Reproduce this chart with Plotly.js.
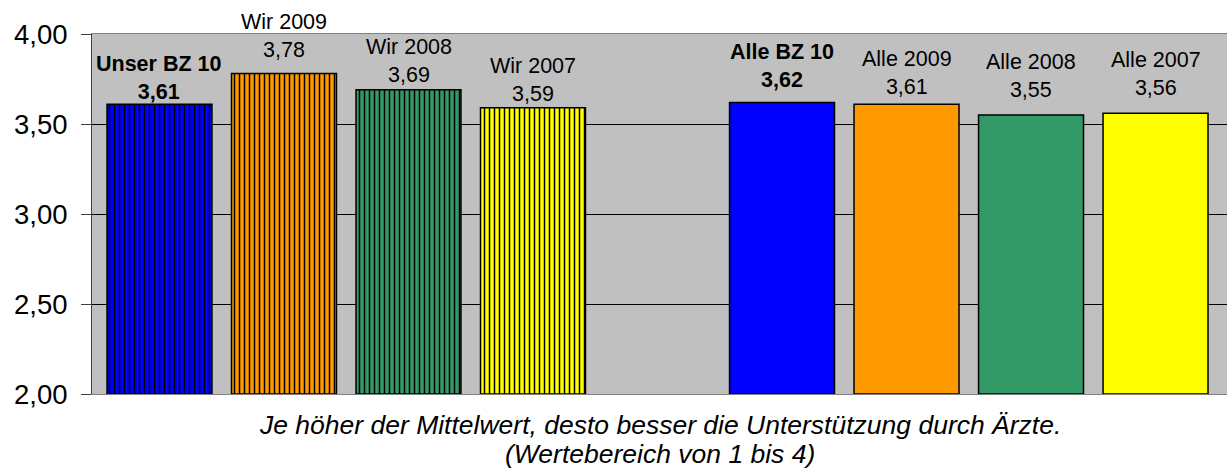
<!DOCTYPE html>
<html>
<head>
<meta charset="utf-8">
<script src="https://cdn.plot.ly/plotly-3.0.1.min.js"></script>
<style>html,body{margin:0;padding:0;background:#fff;}#chart{width:1227px;height:470px;}</style>
</head>
<body>
<div id="chart"></div>
<script>
const categories = ["Unser BZ 10", "Wir 2009", "Wir 2008", "Wir 2007", " ", "Alle BZ 10", "Alle 2009", "Alle 2008", "Alle 2007"];
const values = [3.61, 3.78, 3.69, 3.59, null, 3.62, 3.61, 3.55, 3.56];
const colors = ["#0000FF", "#FF9900", "#339966", "#FFFF00", "#FFFFFF", "#0000FF", "#FF9900", "#339966", "#FFFF00"];
const striped = [true, true, true, true, false, false, false, false, false];
const bold = [true, false, false, false, false, true, false, false, false];
const yTicks = [2.0, 2.5, 3.0, 3.5, 4.0];
const subtitleLines = ["Je höher der Mittelwert, desto besser die Unterstützung durch Ärzte.", "(Wertebereich von 1 bis 4)"];

// label placement (style): vertical offset in px above each bar top
const labelShift = [-2, 10, 1, 0, 0, 8, 3, 11, 11];

const FONT = "Liberation Sans, Arial, sans-serif";
const fmt = v => v.toFixed(2).replace('.', ',');

const traces = [];
categories.forEach((c, i) => {
  if (values[i] === null) return;
  const t = {
    type: "bar",
    x: [c],
    y: [values[i] - 2],
    base: 2,
    hoverinfo: "none",
    marker: {
      color: colors[i],
      line: {color: "#000", width: 1.5}
    }
  };
  if (striped[i]) {
    t.marker.pattern = {shape: "|", fgcolor: "#000000", bgcolor: colors[i], fillmode: "replace", size: 5, solidity: 0.3};
  }
  traces.push(t);
});

const annotations = [];
categories.forEach((c, i) => {
  if (values[i] === null) return;
  let t = c + "<br>" + fmt(values[i]);
  if (bold[i]) t = "<b>" + t + "</b>";
  annotations.push({
    x: c, y: values[i], xref: "x", yref: "y",
    text: t, showarrow: false, yanchor: "bottom", xanchor: "center",
    yshift: labelShift[i],
    font: {family: FONT, size: 21.5, color: "#000"}
  });
});
subtitleLines.forEach((s, i) => {
  annotations.push({
    x: 0.5, xref: "paper", y: i === 0 ? -0.085 : -0.168, yref: "paper",
    text: "<i>" + s + "</i>", showarrow: false, yanchor: "middle", xanchor: "center",
    font: {family: FONT, size: 26.5, color: "#000"}
  });
});

const layout = {
  width: 1227,
  height: 470,
  margin: {l: 92, r: 0, t: 34, b: 76},
  paper_bgcolor: "#FFFFFF",
  plot_bgcolor: "#C0C0C0",
  separators: ",.",
  showlegend: false,
  barmode: "overlay",
  bargap: 0.157,
  font: {family: FONT, color: "#000"},
  annotations: annotations,
  xaxis: {
    type: "category",
    categoryorder: "array",
    categoryarray: categories,
    range: [-0.542, 8.574],
    showticklabels: false,
    ticks: "",
    showgrid: false,
    showline: true,
    linecolor: "#808080",
    linewidth: 1,
    mirror: true
  },
  yaxis: {
    range: [2, 4],
    tickvals: yTicks,
    tickformat: ".2f",
    ticks: "outside",
    ticklen: 10,
    tickcolor: "#404040",
    tickwidth: 1,
    ticklabelstandoff: 8,
    tickfont: {family: FONT, size: 27.5, color: "#000"},
    showgrid: true,
    gridcolor: "#000000",
    gridwidth: 1,
    zeroline: false,
    showline: true,
    linecolor: "#404040",
    linewidth: 1
  }
};

Plotly.newPlot("chart", traces, layout, {displayModeBar: false, staticPlot: true});
</script>
</body>
</html>
